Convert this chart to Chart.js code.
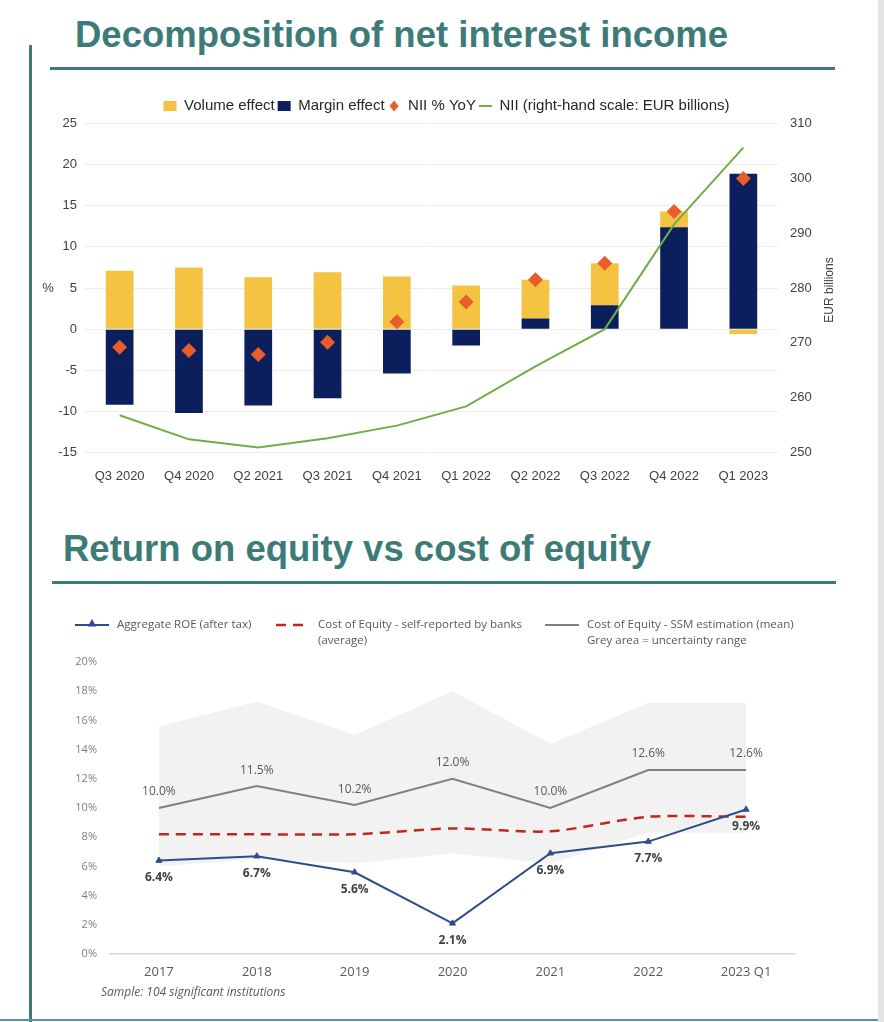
<!DOCTYPE html>
<html>
<head>
<meta charset="utf-8">
<script src="https://cdn.jsdelivr.net/npm/chart.js@4.4.1/dist/chart.umd.min.js"></script>
<style>
  html, body { margin: 0; padding: 0; background: #fff; }
  #page { position: relative; width: 884px; height: 1022px; overflow: hidden; }
  .title { position: absolute; margin: 0; font: bold 36.5px "Liberation Sans", Arial, sans-serif; color: #3d7b78; line-height: 40px; white-space: nowrap; }
  .rule { position: absolute; height: 3px; background: #3d7b78; }
  .box { position: absolute; }
  #note { position: absolute; left: 101px; top: 983px; font: italic 12px "Open Sans", sans-serif; color: #595959; white-space: nowrap; }
</style>
</head>
<body>
<div id="page">
  <div class="rule" style="left:29px;top:45px;width:3px;height:977px;"></div>
  <div class="rule" style="left:0;top:1019px;width:878px;height:2px;background:#4f9a98;"></div>
  <div style="position:absolute;left:878px;top:0;width:6px;height:1022px;background:#e3e3e3;"></div>

  <h1 class="title" style="left:75px;top:15px;">Decomposition of net interest income</h1>
  <div class="rule" style="left:50px;top:67px;width:785px;"></div>
  <div class="box" style="left:30px;top:88px;width:830px;height:400px;"><canvas id="niiChart"></canvas></div>

  <h1 class="title" style="left:63px;top:529px;">Return on equity vs cost of equity</h1>
  <div class="rule" style="left:52px;top:581px;width:784px;"></div>
  <div class="box" style="left:60px;top:600px;width:800px;height:410px;"><canvas id="roeChart"></canvas></div>
  <div id="note">Sample: 104 significant institutions</div>
</div>

<script>
// ---- data: net interest income decomposition ----
var quarters = ['Q3 2020', 'Q4 2020', 'Q2 2021', 'Q3 2021', 'Q4 2021', 'Q1 2022', 'Q2 2022', 'Q3 2022', 'Q4 2022', 'Q1 2023'];
var volumeEffect = [7.1, 7.5, 6.3, 6.9, 6.4, 5.3, 4.7, 5.1, 1.9, -0.6];
var marginEffect = [-9.2, -10.2, -9.3, -8.4, -5.4, -2.0, 1.3, 2.9, 12.4, 18.9];
var niiYoy = [-2.2, -2.6, -3.1, -1.6, 0.9, 3.3, 6.0, 8.0, 14.3, 18.3];
var niiLevel = [256.8, 252.4, 250.9, 252.6, 254.9, 258.4, 265.7, 272.5, 291.6, 305.6];

// ---- data: ROE vs cost of equity ----
var years = ['2017', '2018', '2019', '2020', '2021', '2022', '2023 Q1'];
var roe = [6.4, 6.7, 5.6, 2.1, 6.9, 7.7, 9.9];
var coeReported = [8.2, 8.2, 8.2, 8.6, 8.4, 9.4, 9.4];
var coeSsm = [10.0, 11.5, 10.2, 12.0, 10.0, 12.6, 12.6];
var coeRangeHigh = [15.6, 17.3, 15.0, 18.0, 14.4, 17.2, 17.2];
var coeRangeLow = [6.0, 6.5, 6.2, 6.9, 6.2, 8.3, 8.3];

var arial = '"Liberation Sans", Arial, sans-serif';
var open = '"Open Sans", sans-serif';

// small diamond for the legend
var diamondIcon = document.createElement('canvas');
diamondIcon.width = 10;
diamondIcon.height = 12;
(function(){
    var c = diamondIcon.getContext('2d');
    c.fillStyle = '#e85d2a';
    c.beginPath();
    c.moveTo(5, 0.5); c.lineTo(9.5, 6); c.lineTo(5, 11.5); c.lineTo(0.5, 6);
    c.closePath();
    c.fill();
})();

var axisTitles = {
    id: 'axisTitles',
    afterDraw: function(chart){
        var ctx = chart.ctx, a = chart.chartArea;
        var mid = (a.top + a.bottom) / 2;
        ctx.save();
        ctx.fillStyle = '#404040';
        ctx.textAlign = 'center';
        ctx.textBaseline = 'middle';
        ctx.font = '13px ' + arial;
        ctx.fillText('%', a.left - 37, mid);
        ctx.translate(a.right + 52, mid + 2);
        ctx.rotate(-Math.PI / 2);
        ctx.font = '12px ' + arial;
        ctx.fillText('EUR billions', 0, 0);
        ctx.restore();
    }
};

new Chart(document.getElementById('niiChart'), {
    type: 'bar',
    data: {
        labels: quarters,
        datasets: [
            {
                label: 'Volume effect',
                data: volumeEffect,
                backgroundColor: '#f5c342',
                pointStyle: 'rect',
                stack: 'nii',
                order: 3,
                barPercentage: 0.8,
                categoryPercentage: 0.5
            },
            {
                label: 'Margin effect',
                data: marginEffect,
                backgroundColor: '#0b1f5c',
                pointStyle: 'rect',
                stack: 'nii',
                order: 2,
                barPercentage: 0.8,
                categoryPercentage: 0.5
            },
            {
                type: 'line',
                label: 'NII % YoY',
                data: niiYoy,
                showLine: false,
                stack: 'yoy',
                pointStyle: 'rectRot',
                pointRadius: 7.5,
                pointBackgroundColor: '#e85d2a',
                pointBorderWidth: 0,
                backgroundColor: '#e85d2a',
                borderColor: '#e85d2a',
                order: 0
            },
            {
                type: 'line',
                label: 'NII (right-hand scale: EUR billions)',
                data: niiLevel,
                yAxisID: 'y1',
                borderColor: '#70ad47',
                backgroundColor: '#70ad47',
                borderWidth: 2,
                pointRadius: 0,
                pointStyle: 'line',
                tension: 0,
                order: 1
            }
        ]
    },
    options: {
        responsive: true,
        maintainAspectRatio: false,
        animation: false,
        layout: { padding: { top: 7.5, left: 3, right: 0, bottom: 0 } },
        plugins: {
            tooltip: { enabled: false },
            legend: {
                position: 'top',
                labels: {
                    usePointStyle: true,
                    pointStyleWidth: 13,
                    boxHeight: 10,
                    padding: 3,
                    color: '#262626',
                    font: { family: arial, size: 15 },
                    sort: function(a, b){ return a.datasetIndex - b.datasetIndex; },
                    generateLabels: function(chart){
                        var items = Chart.defaults.plugins.legend.labels.generateLabels(chart);
                        items.forEach(function(it){
                            if (it.datasetIndex === 2) it.pointStyle = diamondIcon;
                        });
                        return items;
                    }
                }
            }
        },
        scales: {
            x: {
                stacked: true,
                grid: { display: false },
                border: { display: false },
                ticks: { color: '#404040', font: { family: arial, size: 13 }, padding: 8, maxRotation: 0 },
                afterFit: function(scale){ scale.height = 35.5; }
            },
            y: {
                stacked: true,
                min: -15,
                max: 25,
                ticks: { stepSize: 5, color: '#404040', font: { family: arial, size: 13 }, padding: 8 },
                grid: { color: '#ececec', drawTicks: false },
                border: { display: false },
                afterFit: function(scale){ scale.width = 52; }
            },
            y1: {
                position: 'right',
                min: 250,
                max: 310,
                ticks: { stepSize: 10, color: '#404040', font: { family: arial, size: 13 }, padding: 12 },
                grid: { display: false, drawTicks: false },
                border: { display: false },
                afterFit: function(scale){ scale.width = 82; }
            }
        }
    },
    plugins: [axisTitles]
});

// ---- second chart ----
var roeLegend = {
    id: 'roeLegend',
    afterDraw: function(chart){
        var ctx = chart.ctx;
        var lefts = [15, 216, 485];
        var y = 25, lineGap = 16;
        ctx.save();
        ctx.font = '11.5px ' + open;
        ctx.textBaseline = 'middle';
        ctx.textAlign = 'left';
        chart.data.datasets.forEach(function(ds, i){
            if (!ds.legendText) return;
            var x = lefts[i];
            ctx.save();
            ctx.strokeStyle = ds.borderColor;
            ctx.lineWidth = ds.borderWidth;
            ctx.setLineDash(ds.borderDash || []);
            ctx.beginPath();
            ctx.moveTo(x, y);
            ctx.lineTo(x + 34, y);
            ctx.stroke();
            if (ds.pointRadius > 0) {
                ctx.setLineDash([]);
                ctx.fillStyle = ds.borderColor;
                Chart.helpers.drawPoint(ctx, { pointStyle: ds.pointStyle, radius: 3, borderWidth: 1 }, x + 17, y - 1);
            }
            ctx.restore();
            ctx.fillStyle = '#595959';
            ds.legendText.forEach(function(t, k){
                ctx.fillText(t, x + 42, y + k * lineGap);
            });
        });
        ctx.restore();
    }
};

var pointLabels = {
    id: 'pointLabels',
    afterDatasetsDraw: function(chart){
        var ctx = chart.ctx;
        ctx.save();
        ctx.textAlign = 'center';
        ctx.textBaseline = 'middle';
        chart.data.datasets.forEach(function(ds, i){
            if (!ds.valueLabel) return;
            var meta = chart.getDatasetMeta(i);
            ctx.font = (ds.valueLabel.bold ? 'bold ' : '') + '12px ' + open;
            ctx.fillStyle = ds.valueLabel.color;
            meta.data.forEach(function(pt, j){
                ctx.fillText(ds.data[j].toFixed(1) + '%', pt.x, pt.y + ds.valueLabel.offset);
            });
        });
        ctx.restore();
    }
};

new Chart(document.getElementById('roeChart'), {
    type: 'line',
    data: {
        labels: years,
        datasets: [
            {
                label: 'Aggregate ROE (after tax)',
                legendText: ['Aggregate ROE (after tax)'],
                data: roe,
                borderColor: '#2f4d8a',
                backgroundColor: '#2f4d8a',
                borderWidth: 2,
                pointStyle: 'triangle',
                pointRadius: 3.5,
                pointBorderWidth: 1,
                valueLabel: { offset: 17, bold: true, color: '#404040' },
                order: 0
            },
            {
                label: 'Cost of Equity - self-reported by banks (average)',
                legendText: ['Cost of Equity - self-reported by banks', '(average)'],
                data: coeReported,
                borderColor: '#c0271e',
                borderWidth: 2.5,
                borderDash: [10, 7],
                pointRadius: 0,
                tension: 0.25,
                order: 1
            },
            {
                label: 'Cost of Equity - SSM estimation (mean)',
                legendText: ['Cost of Equity - SSM estimation (mean)', 'Grey area = uncertainty range'],
                data: coeSsm,
                borderColor: '#808080',
                borderWidth: 2,
                pointRadius: 0,
                valueLabel: { offset: -16, bold: false, color: '#595959' },
                order: 2
            },
            {
                label: 'Uncertainty range high',
                data: coeRangeHigh,
                borderWidth: 0,
                borderColor: 'rgba(0,0,0,0)',
                backgroundColor: '#f2f2f2',
                pointRadius: 0,
                fill: '+1',
                order: 5
            },
            {
                label: 'Uncertainty range low',
                data: coeRangeLow,
                borderWidth: 0,
                borderColor: 'rgba(0,0,0,0)',
                pointRadius: 0,
                fill: false,
                order: 6
            }
        ]
    },
    options: {
        responsive: true,
        maintainAspectRatio: false,
        animation: false,
        layout: { padding: { top: 62, left: 0, right: 65, bottom: 0 } },
        plugins: {
            legend: { display: false },
            tooltip: { enabled: false }
        },
        scales: {
            x: {
                offset: true,
                grid: { display: false, drawTicks: false },
                border: { display: true, color: '#d9d9d9', width: 1.5 },
                ticks: { color: '#595959', font: { family: open, size: 13 }, padding: 10, maxRotation: 0 },
                afterFit: function(scale){ scale.height = 56; }
            },
            y: {
                min: 0,
                max: 20,
                grid: { display: false, drawTicks: false },
                border: { display: false },
                ticks: {
                    stepSize: 2,
                    color: '#7f7f7f',
                    font: { family: open, size: 11 },
                    padding: 13,
                    callback: function(v){ return v + '%'; }
                },
                afterFit: function(scale){ scale.width = 50; }
            }
        }
    },
    plugins: [pointLabels, roeLegend]
});
</script>
</body>
</html>
